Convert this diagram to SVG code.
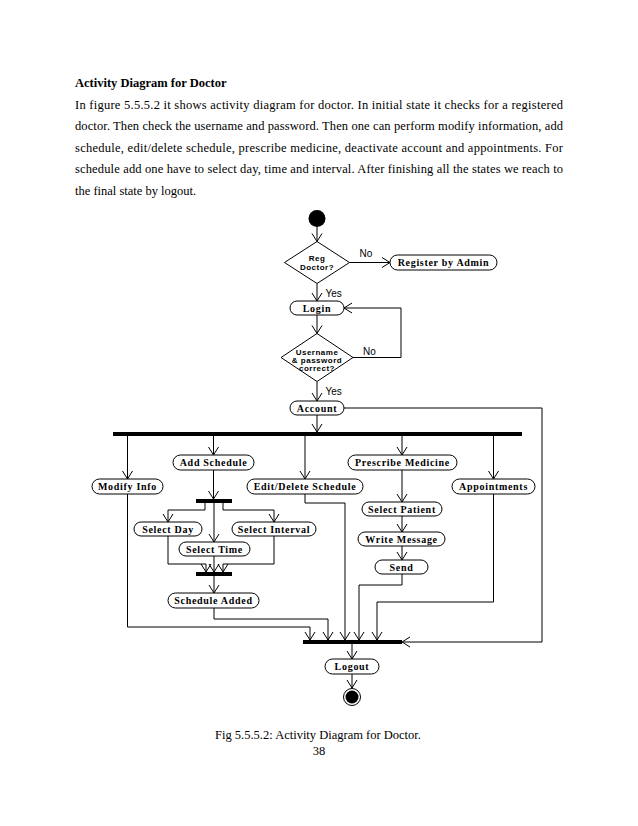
<svg xmlns="http://www.w3.org/2000/svg" width="638" height="826" viewBox="0 0 638 826">
<style>
.bg{fill:#fff}
.body{font-family:"Liberation Serif",serif;font-size:12.5px;fill:#000}
.title{font-family:"Liberation Serif",serif;font-size:12.5px;font-weight:bold;fill:#000}
.n rect{fill:#fff;stroke:#000;stroke-width:1}
.n text{font-family:"Liberation Serif",serif;font-weight:bold;font-size:10px;letter-spacing:0.7px;text-anchor:middle;fill:#000}
.d polygon{fill:#fff;stroke:#000;stroke-width:1}
.d text{font-family:"Liberation Sans",sans-serif;font-weight:bold;font-size:8px;letter-spacing:0.5px;text-anchor:middle;fill:#000}
.lbl{font-family:"Liberation Sans",sans-serif;font-size:10px;fill:#000}
.bar{fill:#000}
#connectors path{fill:none;stroke:#000;stroke-width:1;marker-end:url(#arr)}
</style>
<defs>
<marker id="arr" viewBox="-10 -6 11 12" refX="0" refY="0" markerWidth="11" markerHeight="12" orient="auto" markerUnits="userSpaceOnUse">
<path d="M-8,-5 L0,0 L-8,5" fill="none" stroke="#000" stroke-width="1"/>
</marker>
</defs>
<rect class="bg" x="0" y="0" width="638" height="826"/>

<g id="page-text">
<text class="title" x="75" y="87">Activity Diagram for Doctor</text>
<text class="body" x="75" y="108.5" textLength="488" lengthAdjust="spacing">In figure 5.5.5.2 it shows activity diagram for doctor. In initial state it checks for a registered</text>
<text class="body" x="75" y="130" textLength="488" lengthAdjust="spacing">doctor. Then check the username and password. Then one can perform modify information, add</text>
<text class="body" x="75" y="151.5" textLength="488" lengthAdjust="spacing">schedule, edit/delete schedule, prescribe medicine, deactivate account and appointments. For</text>
<text class="body" x="75" y="173" textLength="488" lengthAdjust="spacing">schedule add one have to select day, time and interval. After finishing all the states we reach to</text>
<text class="body" x="75" y="194.5">the final state by logout.</text>
<text class="body" x="318" y="738.5" text-anchor="middle">Fig 5.5.5.2: Activity Diagram for Doctor.</text>
<text class="body" x="319" y="755" text-anchor="middle">38</text>
</g>

<g id="connectors">
<path d="M317,227 V241.5"/>
<path d="M349.5,262.5 H390"/>
<path d="M317,283.5 V301"/>
<path d="M317,315 V333.5"/>
<path d="M353,357.5 H401 V308 H344"/>
<path d="M317,381.5 V401"/>
<path d="M317,415 V432"/>
<path d="M344,408 H542 V642 H402"/>
<path d="M127.5,436 V479"/>
<path d="M213.5,436 V455"/>
<path d="M305,436 V479"/>
<path d="M402,436 V455"/>
<path d="M493.5,436 V479"/>
<path d="M213.5,470 V499"/>
<path d="M205,503 V510 H168 V522"/>
<path d="M214,503 V542"/>
<path d="M223,503 V510 H274 V522"/>
<path d="M168,536 V564 H206 V572"/>
<path d="M214,556 V572"/>
<path d="M274,536 V564 H223 V572"/>
<path d="M214,576 V593"/>
<path d="M214,608 V619 H328 V640"/>
<path d="M127.5,494 V627 H310 V640"/>
<path d="M305,494 V503 H345 V640"/>
<path d="M402,470 V502"/>
<path d="M402,516 V532"/>
<path d="M402,546 V560"/>
<path d="M402,574 V585 H359 V640"/>
<path d="M493.5,494 V602 H377 V640"/>
<path d="M352,644 V659"/>
<path d="M352,674 V688"/>
</g>

<g id="labels">
<text class="lbl" x="359.5" y="257">No</text>
<text class="lbl" x="325.5" y="296.5">Yes</text>
<text class="lbl" x="363" y="355">No</text>
<text class="lbl" x="325.5" y="395">Yes</text>
</g>

<g id="start"><circle cx="317" cy="218.5" r="8.5" fill="#000"/></g>

<g id="reg-doctor" class="d">
<polygon points="317,241.5 349.5,262.5 317,283.5 284.5,262.5"/>
<text x="317" y="261">Reg</text>
<text x="317" y="270">Doctor?</text>
</g>

<g id="register-by-admin" class="n"><rect x="390" y="255" width="107" height="15" rx="7.5"/><text x="443.5" y="266">Register by Admin</text></g>
<g id="login" class="n"><rect x="290" y="301" width="54" height="14" rx="7"/><text x="317" y="311.5">Login</text></g>

<g id="username-check" class="d">
<polygon points="317,333.5 353,357.5 317,381.5 281,357.5"/>
<text x="317" y="354.5">Username</text>
<text x="317" y="362.5">&amp; password</text>
<text x="317" y="370.5">correct?</text>
</g>

<g id="account" class="n"><rect x="290" y="401" width="54" height="14" rx="7"/><text x="317" y="411.5">Account</text></g>

<g id="fork-main"><rect class="bar" x="113" y="432" width="409" height="4"/></g>

<g id="add-schedule" class="n"><rect x="173" y="455" width="81" height="15" rx="7.5"/><text x="213.5" y="466">Add Schedule</text></g>
<g id="prescribe-medicine" class="n"><rect x="348" y="455" width="109" height="15" rx="7.5"/><text x="402.5" y="466">Prescribe Medicine</text></g>
<g id="modify-info" class="n"><rect x="92" y="479" width="71" height="15" rx="7.5"/><text x="127.5" y="490">Modify Info</text></g>
<g id="edit-delete-schedule" class="n"><rect x="247" y="479" width="116" height="15" rx="7.5"/><text x="305" y="490">Edit/Delete Schedule</text></g>
<g id="appointments" class="n"><rect x="452" y="479" width="83" height="15" rx="7.5"/><text x="493.5" y="490">Appointments</text></g>

<g id="fork-schedule"><rect class="bar" x="196" y="499" width="36" height="4"/></g>

<g id="select-patient" class="n"><rect x="362" y="502" width="80" height="14" rx="7"/><text x="402" y="512.5">Select Patient</text></g>
<g id="select-day" class="n"><rect x="134" y="522" width="68" height="14" rx="7"/><text x="168" y="532.5">Select Day</text></g>
<g id="select-interval" class="n"><rect x="232" y="522" width="84" height="14" rx="7"/><text x="274" y="532.5">Select Interval</text></g>
<g id="write-message" class="n"><rect x="358" y="532" width="87" height="14" rx="7"/><text x="401.5" y="542.5">Write Message</text></g>
<g id="select-time" class="n"><rect x="179" y="542" width="71" height="14" rx="7"/><text x="214.5" y="552.5">Select Time</text></g>
<g id="send" class="n"><rect x="375" y="560" width="53" height="14" rx="7"/><text x="401.5" y="570.5">Send</text></g>

<g id="join-schedule"><rect class="bar" x="196" y="572" width="36" height="4"/></g>

<g id="schedule-added" class="n"><rect x="168" y="593" width="91" height="15" rx="7.5"/><text x="213.5" y="604">Schedule Added</text></g>

<g id="join-main"><rect class="bar" x="303" y="640" width="99" height="4"/></g>

<g id="logout" class="n"><rect x="325" y="659" width="54" height="15" rx="7.5"/><text x="352" y="670">Logout</text></g>

<g id="end">
<circle cx="352" cy="697" r="8.5" fill="#fff" stroke="#000" stroke-width="1"/>
<circle cx="352" cy="697" r="6.5" fill="#000"/>
</g>
</svg>
